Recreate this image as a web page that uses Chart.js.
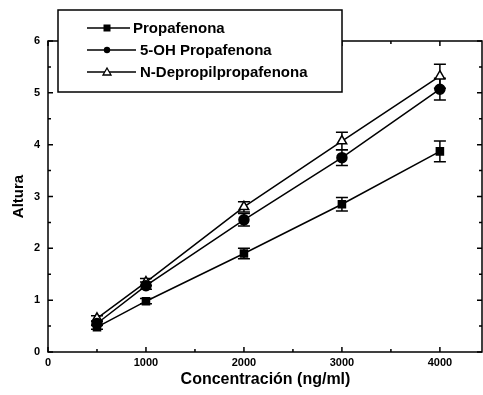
<!DOCTYPE html>
<html>
<head>
<meta charset="utf-8">
<script src="https://cdn.jsdelivr.net/npm/chart.js@4.4.1/dist/chart.umd.min.js"></script>
<style>
  html, body { margin: 0; padding: 0; background: #fff; }
  canvas { display: block; }
</style>
</head>
<body>
<canvas id="grafico" width="483" height="395"></canvas>
<script>
// datos
const concentraciones = [500, 1000, 2000, 3000, 4000];
const propafenona = [0.48, 0.98, 1.90, 2.85, 3.87];
const errPropafenona = [0.04, 0.05, 0.10, 0.13, 0.20];
const ohPropafenona = [0.55, 1.28, 2.55, 3.75, 5.07];
const errOhPropafenona = [0.04, 0.07, 0.12, 0.15, 0.21];
const depropil = [0.65, 1.35, 2.80, 4.07, 5.32];
const errDepropil = [0.05, 0.07, 0.10, 0.17, 0.23];
const xTicks = [0, 1000, 2000, 3000, 4000];
const yTicks = [0, 1, 2, 3, 4, 5, 6];

const nombres = ['Propafenona', '5-OH Propafenona', 'N-Depropilpropafenona'];
const fuente = '"Liberation Sans", Arial, sans-serif';

function puntos(valores) {
    return concentraciones.map((c, i) => ({ x: c, y: valores[i] }));
}

// barras de error
const barrasError = {
    id: 'barrasError',
    beforeDatasetsDraw(chart) {
        const ctx = chart.ctx;
        const xs = chart.scales.x, ys = chart.scales.y;
        ctx.save();
        ctx.strokeStyle = '#000';
        ctx.lineWidth = 1.5;
        chart.data.datasets.forEach(ds => {
            ds.errores.forEach((e, i) => {
                const px = xs.getPixelForValue(concentraciones[i]);
                const top = ys.getPixelForValue(ds.data[i].y + e);
                const bot = ys.getPixelForValue(ds.data[i].y - e);
                ctx.beginPath();
                ctx.moveTo(px, top); ctx.lineTo(px, bot);
                ctx.moveTo(px - 6, top); ctx.lineTo(px + 6, top);
                ctx.moveTo(px - 6, bot); ctx.lineTo(px + 6, bot);
                ctx.stroke();
            });
        });
        ctx.restore();
    }
};

// marco y marcas hacia dentro
const marco = {
    id: 'marco',
    afterDraw(chart) {
        const ctx = chart.ctx;
        const a = chart.chartArea;
        const xs = chart.scales.x, ys = chart.scales.y;
        ctx.save();
        ctx.strokeStyle = '#000';
        ctx.lineWidth = 1.5;
        ctx.strokeRect(a.left, a.top, a.right - a.left - 1, a.bottom - a.top);
        ctx.beginPath();
        for (let v = 0; v <= 4000; v += 500) {
            const px = xs.getPixelForValue(v);
            const len = v % 1000 === 0 ? 5 : 3;
            ctx.moveTo(px, a.bottom); ctx.lineTo(px, a.bottom - len);
            ctx.moveTo(px, a.top); ctx.lineTo(px, a.top + len);
        }
        for (let v = 0; v <= 6; v += 0.5) {
            const py = ys.getPixelForValue(v);
            const len = v % 1 === 0 ? 5 : 3;
            ctx.moveTo(a.left, py); ctx.lineTo(a.left + len, py);
            ctx.moveTo(a.right - 1, py); ctx.lineTo(a.right - 1 - len, py);
        }
        ctx.stroke();
        ctx.restore();
    }
};

// leyenda en caja
const leyenda = {
    id: 'leyenda',
    afterDraw(chart) {
        const ctx = chart.ctx;
        ctx.save();
        ctx.fillStyle = '#fff';
        ctx.fillRect(58, 10, 284, 82);
        ctx.strokeStyle = '#000';
        ctx.lineWidth = 1.5;
        ctx.strokeRect(58, 10, 284, 82);
        ctx.font = 'bold 15px ' + fuente;
        ctx.textBaseline = 'middle';
        const filas = [28, 50, 72];
        chart.data.datasets.forEach((ds, i) => {
            const y = filas[i];
            const fin = i === 0 ? 130 : 136;
            ctx.strokeStyle = '#000';
            ctx.lineWidth = 1.3;
            ctx.beginPath();
            ctx.moveTo(87, y); ctx.lineTo(fin, y);
            ctx.stroke();
            const mx = 107;
            ctx.fillStyle = '#000';
            if (ds.pointStyle === 'rect') {
                ctx.fillRect(mx - 3.5, y - 3.5, 7, 7);
            } else if (ds.pointStyle === 'circle') {
                ctx.beginPath(); ctx.arc(mx, y, 3.2, 0, Math.PI * 2); ctx.fill();
            } else {
                ctx.fillStyle = '#fff';
                ctx.beginPath();
                ctx.moveTo(mx, y - 4); ctx.lineTo(mx + 4, y + 3); ctx.lineTo(mx - 4, y + 3);
                ctx.closePath(); ctx.fill(); ctx.stroke();
            }
            ctx.fillStyle = '#000';
            ctx.fillText(ds.label, i === 0 ? 133 : 140, y + 1);
        });
        ctx.restore();
    }
};

const ctxGrafico = document.getElementById('grafico').getContext('2d');
new Chart(ctxGrafico, {
    type: 'line',
    data: {
        datasets: [
            {
                label: nombres[0],
                data: puntos(propafenona),
                errores: errPropafenona,
                pointStyle: 'rect',
                pointRadius: 5,
                borderColor: '#000', backgroundColor: '#000',
                pointBackgroundColor: '#000', borderWidth: 1.5
            },
            {
                label: nombres[1],
                data: puntos(ohPropafenona),
                errores: errOhPropafenona,
                pointStyle: 'circle',
                pointRadius: 5,
                borderColor: '#000', backgroundColor: '#000',
                pointBackgroundColor: '#000', borderWidth: 1.5
            },
            {
                label: nombres[2],
                data: puntos(depropil),
                errores: errDepropil,
                pointStyle: 'triangle',
                pointRadius: 5.5,
                borderColor: '#000', backgroundColor: '#fff',
                pointBackgroundColor: '#fff', pointBorderWidth: 1.5, borderWidth: 1.5
            }
        ]
    },
    options: {
        responsive: false,
        animation: false,
        layout: { autoPadding: false, padding: { top: 41, right: 0, bottom: 0, left: 0 } },
        plugins: { legend: { display: false }, tooltip: { enabled: false } },
        scales: {
            x: {
                type: 'linear',
                min: 0, max: 4440,
                grid: { display: false, drawTicks: false },
                border: { display: false },
                afterBuildTicks: s => { s.ticks = xTicks.map(v => ({ value: v })); },
                afterFit: s => { s.height = 43; },
                ticks: {
                    color: '#000', font: { family: fuente, size: 11, weight: 'bold' }, padding: 4,
                    callback: v => String(v)
                },
                title: {
                    display: true, text: 'Concentración (ng/ml)', color: '#000',
                    font: { family: fuente, size: 16, weight: 'bold' },
                    padding: { top: 0, bottom: 6 }
                }
            },
            y: {
                min: 0, max: 6,
                grid: { display: false, drawTicks: false },
                border: { display: false },
                afterBuildTicks: s => { s.ticks = yTicks.map(v => ({ value: v })); },
                afterFit: s => { s.width = 48; },
                ticks: {
                    color: '#000', font: { family: fuente, size: 11, weight: 'bold' }, padding: 8,
                    callback: v => String(v)
                },
                title: {
                    display: true, text: 'Altura', color: '#000',
                    font: { family: fuente, size: 15, weight: 'bold' },
                    padding: { top: 10, bottom: 0 }
                }
            }
        }
    },
    plugins: [barrasError, marco, leyenda]
});
</script>
</body>
</html>
